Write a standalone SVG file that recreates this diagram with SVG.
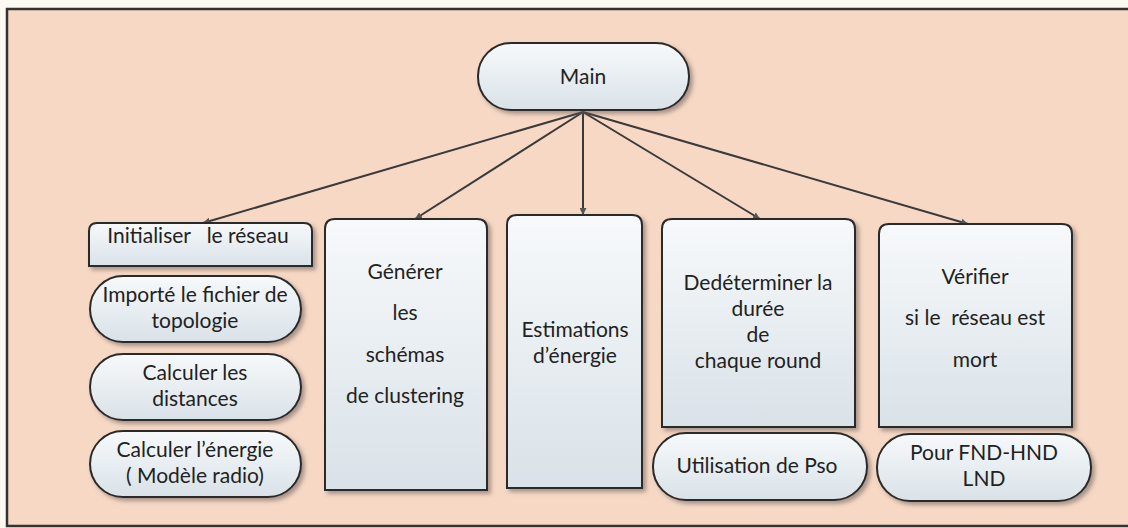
<svg xmlns="http://www.w3.org/2000/svg" width="1128" height="528" viewBox="0 0 1128 528">
<defs>
<linearGradient id="g" x1="0" y1="0" x2="0" y2="1">
<stop offset="0" stop-color="#f7f9fb"/>
<stop offset="1" stop-color="#d9e2e8"/>
</linearGradient>
<filter id="sh" x="-10%" y="-10%" width="130%" height="130%">
<feDropShadow dx="3" dy="3" stdDeviation="2" flood-color="#6b5a55" flood-opacity="0.55"/>
</filter>
<marker id="ah" viewBox="0 0 10 10" refX="10" refY="5" markerWidth="7" markerHeight="7" orient="auto" markerUnits="userSpaceOnUse">
<path d="M0,0 L10,5 L0,10 z" fill="#555"/>
</marker>
<style>
.n{fill:url(#g);stroke:#2a2a2a;stroke-width:2;filter:url(#sh)}
.t{font-family:Lato,"Liberation Sans",sans-serif;font-size:21px;fill:#222;text-anchor:middle}
.c{stroke:#3a3a3a;stroke-width:2;fill:none;marker-end:url(#ah)}
</style>
</defs>
<rect x="0" y="0" width="1128" height="528" fill="#fdfaf3"/>
<rect x="7" y="9" width="1130" height="517" fill="#f6d8c5" stroke="#333" stroke-width="2.5"/>

<g id="connectors">
<line class="c" x1="583" y1="112" x2="203" y2="223"/>
<line class="c" x1="583" y1="112" x2="415" y2="219"/>
<line class="c" x1="583" y1="112" x2="583" y2="215"/>
<line class="c" x1="583" y1="112" x2="760" y2="219"/>
<line class="c" x1="583" y1="112" x2="968" y2="224"/>
</g>

<g id="main">
<rect class="n" x="478" y="43" width="211" height="67" rx="33"/>
<text class="t" x="583" y="84">Main</text>
</g>

<g id="initialiser">
<path class="n" d="M89,266 V231 Q89,223 97,223 H304 Q312,223 312,231 V266 Z"/>
<text class="t" x="198" y="243" xml:space="preserve">Initialiser   le réseau</text>
</g>

<g id="importe">
<rect class="n" x="90" y="276" width="211" height="66" rx="33"/>
<text class="t" x="195" y="302">Importé le fichier de</text>
<text class="t" x="195" y="328">topologie</text>
</g>

<g id="distances">
<rect class="n" x="90" y="354" width="211" height="66" rx="33"/>
<text class="t" x="195" y="380">Calculer les</text>
<text class="t" x="195" y="406">distances</text>
</g>

<g id="energie">
<rect class="n" x="90" y="431" width="211" height="66" rx="33"/>
<text class="t" x="195" y="457">Calculer l’énergie</text>
<text class="t" x="195" y="483">( Modèle radio)</text>
</g>

<g id="generer">
<path class="n" d="M325,490 V229 Q325,219 335,219 H477 Q487,219 487,229 V490 Z"/>
<text class="t" x="405" y="279">Générer</text>
<text class="t" x="405" y="320">les</text>
<text class="t" x="405" y="362">schémas</text>
<text class="t" x="405" y="403">de clustering</text>
</g>

<g id="estimations">
<path class="n" d="M507,488 V225 Q507,215 517,215 H632 Q642,215 642,225 V488 Z"/>
<text class="t" x="575" y="337">Estimations</text>
<text class="t" x="575" y="363">d’énergie</text>
</g>

<g id="duree">
<path class="n" d="M662,427 V229 Q662,219 672,219 H845 Q855,219 855,229 V427 Z"/>
<text class="t" x="758" y="290">Dedéterminer la</text>
<text class="t" x="758" y="316">durée</text>
<text class="t" x="758" y="342">de</text>
<text class="t" x="758" y="368">chaque round</text>
</g>

<g id="pso">
<rect class="n" x="653" y="433" width="214" height="67" rx="33"/>
<text class="t" x="757" y="473">Utilisation de Pso</text>
</g>

<g id="verifier">
<path class="n" d="M879,427 V234 Q879,224 889,224 H1062 Q1072,224 1072,234 V427 Z"/>
<text class="t" x="975" y="284">Vérifier</text>
<text class="t" x="975" y="325" xml:space="preserve">si le  réseau est</text>
<text class="t" x="975" y="367">mort</text>
</g>

<g id="fnd">
<rect class="n" x="877" y="434" width="214" height="67" rx="33"/>
<text class="t" x="984" y="460">Pour FND-HND</text>
<text class="t" x="984" y="486">LND</text>
</g>
</svg>
